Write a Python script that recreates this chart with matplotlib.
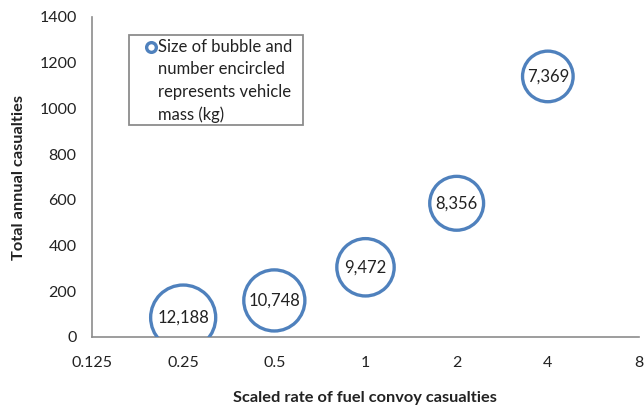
import matplotlib
matplotlib.use("Agg")
import matplotlib.pyplot as plt
from matplotlib.patches import Rectangle
from matplotlib.lines import Line2D
from matplotlib.ticker import NullLocator

# Data
rate = [0.25, 0.5, 1, 2, 4]
casualties = [85, 160, 305, 585, 1140]
mass = [12188, 10748, 9472, 8356, 7369]
mass_labels = ["12,188", "10,748", "9,472", "8,356", "7,369"]
xticks = [0.125, 0.25, 0.5, 1, 2, 4, 8]
xtick_labels = ["0.125", "0.25", "0.5", "1", "2", "4", "8"]
yticks = [0, 200, 400, 600, 800, 1000, 1200, 1400]
ytick_labels = ["0", "200", "400", "600", "800", "1000", "1200", "1400"]
legend_text = "Size of bubble and\nnumber encircled\nrepresents vehicle\nmass (kg)"

plt.rcParams['font.family'] = ['Lato', 'DejaVu Sans']

W, H = 644, 409
fig = plt.figure(figsize=(W / 100, H / 100), dpi=100)
ax = fig.add_axes([92 / W, 1 - 337 / H, 547 / W, 320 / H])

blue = '#4F81BD'
ax.set_xscale('log', base=2)
ax.set_xlim(0.125, 8)
ax.set_ylim(0, 1400)

ax.scatter(rate, casualties, s=[m * 0.18 for m in mass], facecolors='none',
           edgecolors=blue, linewidths=2.4, zorder=3)
for x, y, lab in zip(rate, casualties, mass_labels):
    ax.text(x, y, lab, ha='center', va='center', fontsize=12, color='#222222', zorder=4)

ax.set_xticks(xticks)
ax.set_xticklabels(xtick_labels)
ax.xaxis.set_minor_locator(NullLocator())
ax.set_yticks(yticks)
ax.set_yticklabels(ytick_labels)
ax.tick_params(axis='x', length=0, pad=14, labelsize=11.5, labelcolor='#222222')
ax.tick_params(axis='y', length=0, pad=11, labelsize=11.5, labelcolor='#222222')

for s in ['top', 'right']:
    ax.spines[s].set_visible(False)
for s in ['left', 'bottom']:
    ax.spines[s].set_color('#8c8c8c')
    ax.spines[s].set_linewidth(1.2)

fig.text(365 / W, 1 - 398 / H, "Scaled rate of fuel convoy casualties",
         ha='center', va='center', fontsize=11.8, fontweight='bold', color='#222222')
fig.text(19 / W, 1 - 177 / H, "Total annual casualties", rotation=90,
         ha='center', va='center', fontsize=11.8, fontweight='bold', color='#222222')

# Legend box
fig.patches.append(Rectangle((129 / W, 1 - 125 / H), 174 / W, 90 / H,
                             transform=fig.transFigure, facecolor='white',
                             edgecolor='#8c8c8c', linewidth=1.3, zorder=5))
fig.text(158 / W, 1 - 81 / H, legend_text, ha='left', va='center', fontsize=12,
         linespacing=1.48, color='#222222', zorder=6)
fig.lines.append(Line2D([151 / W], [1 - 47 / H], transform=fig.transFigure,
                        marker='o', markersize=7, markerfacecolor='white',
                        markeredgecolor=blue, markeredgewidth=2.4, linestyle='none', zorder=6))

fig.savefig("out.png", dpi=100)
